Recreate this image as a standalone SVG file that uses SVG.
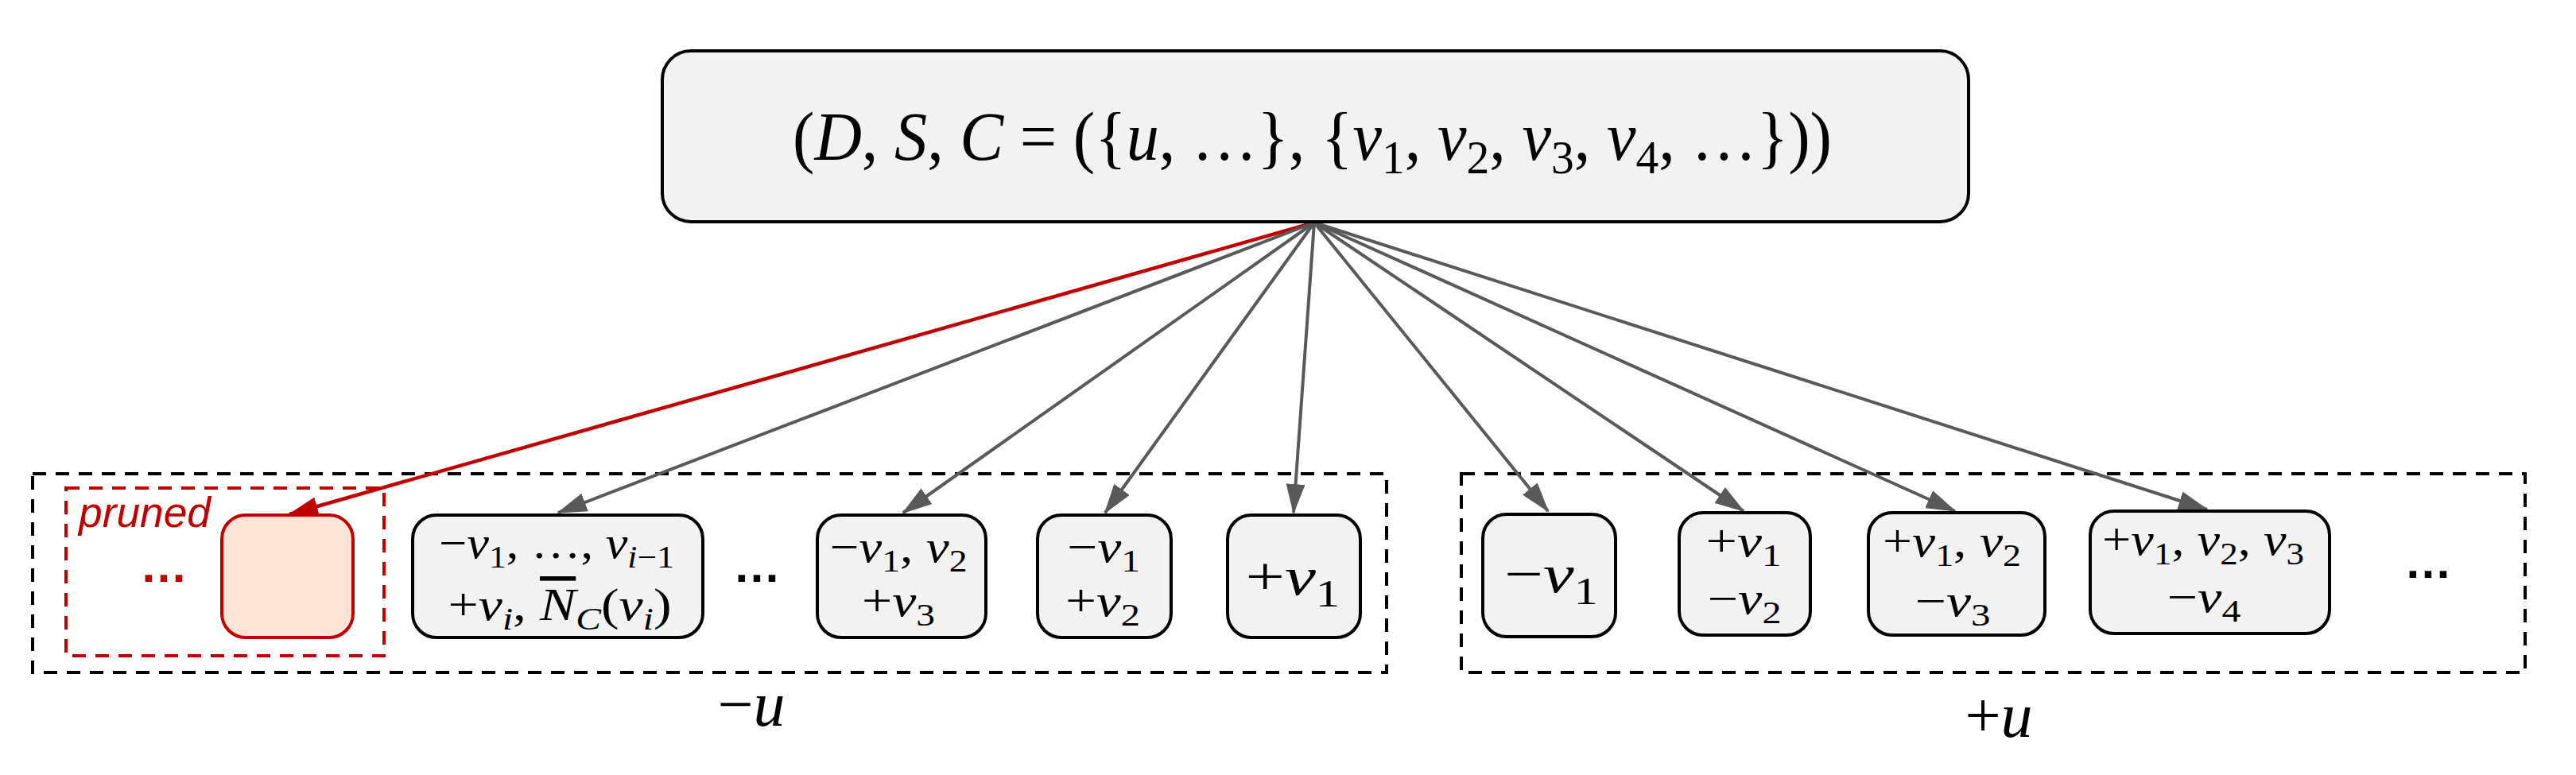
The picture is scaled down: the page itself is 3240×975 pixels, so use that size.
<svg xmlns="http://www.w3.org/2000/svg" width="3240" height="975" viewBox="0 0 3240 975">
<style>
.m{font-family:"Liberation Serif","Times New Roman",serif;fill:#000}
.i{font-style:italic}
.s{font-size:0.7em}
.node{fill:#F2F2F2;stroke:#000;stroke-width:4}
.grp{fill:none;stroke:#000;stroke-width:4;stroke-dasharray:17 12}
.edge{fill:none;stroke:#595959;stroke-width:4}
.redge{fill:none;stroke:#C00000;stroke-width:4.5}
.dots{font-family:"Liberation Sans",Arial,sans-serif;font-weight:bold;font-size:60px;text-anchor:middle}
.nt{font-size:56px;text-anchor:middle}
.bt{font-size:68px;text-anchor:middle}
</style>
<defs>
<marker id="ag" viewBox="0 0 38 24" refX="36" refY="12" markerWidth="38" markerHeight="24" markerUnits="userSpaceOnUse" orient="auto"><path d="M0,0 L38,12 L0,24 z" fill="#595959"/></marker>
<marker id="ar" viewBox="0 0 38 24" refX="36" refY="12" markerWidth="38" markerHeight="24" markerUnits="userSpaceOnUse" orient="auto"><path d="M0,0 L38,12 L0,24 z" fill="#C00000"/></marker>
</defs>
<rect width="3240" height="975" fill="#fff"/>

<g id="group-minus-u">
<rect class="grp" x="41" y="596" width="1703" height="250"/>
<text class="m" x="945" y="913" font-size="80" text-anchor="middle">−<tspan class="i">u</tspan></text>
</g>
<g id="group-plus-u">
<rect class="grp" x="1838" y="596" width="1338" height="250"/>
<text class="m" x="2514" y="927" font-size="80" text-anchor="middle">+<tspan class="i">u</tspan></text>
</g>

<g id="connectors">
<line class="redge" x1="1653" y1="280" x2="364" y2="647" marker-end="url(#ar)"/>
<line class="edge" x1="1653" y1="280" x2="702" y2="645" marker-end="url(#ag)"/>
<line class="edge" x1="1653" y1="280" x2="1136" y2="645" marker-end="url(#ag)"/>
<line class="edge" x1="1653" y1="280" x2="1390" y2="645" marker-end="url(#ag)"/>
<line class="edge" x1="1653" y1="280" x2="1627" y2="645" marker-end="url(#ag)"/>
<line class="edge" x1="1653" y1="280" x2="1947" y2="643" marker-end="url(#ag)"/>
<line class="edge" x1="1653" y1="280" x2="2193" y2="643" marker-end="url(#ag)"/>
<line class="edge" x1="1653" y1="280" x2="2459" y2="643" marker-end="url(#ag)"/>
<line class="edge" x1="1653" y1="280" x2="2776" y2="641" marker-end="url(#ag)"/>
</g>

<g id="root">
<rect class="node" x="833" y="64" width="1643" height="215" rx="36"/>
<text class="m" x="997" y="201" font-size="86" textLength="1307" lengthAdjust="spacingAndGlyphs">(<tspan class="i">D</tspan>, <tspan class="i">S</tspan>, <tspan class="i">C</tspan> = ({<tspan class="i">u</tspan>, …}, {<tspan class="i">v</tspan><tspan class="s" dy="17">1</tspan><tspan dy="-17">, </tspan><tspan class="i">v</tspan><tspan class="s" dy="17">2</tspan><tspan dy="-17">, </tspan><tspan class="i">v</tspan><tspan class="s" dy="17">3</tspan><tspan dy="-17">, </tspan><tspan class="i">v</tspan><tspan class="s" dy="17">4</tspan><tspan dy="-17">, …}))</tspan></text>
</g>

<g id="pruned">
<rect x="83" y="614" width="400" height="211" fill="none" stroke="#C00000" stroke-width="4" stroke-dasharray="17 12"/>
<text x="99" y="663" font-family="'Liberation Sans',Arial,sans-serif" font-style="italic" font-size="53" fill="#C00000" textLength="166" lengthAdjust="spacingAndGlyphs">pruned</text>
<text class="dots" x="206" y="732" fill="#C00000">…</text>
<rect x="279" y="648" width="165" height="154" rx="30" fill="#FBE5D6" stroke="#C00000" stroke-width="4"/>
</g>

<g id="node-neg-v1-vi">
<rect class="node" x="519" y="648" width="365" height="154" rx="30"/>
<text class="m nt" x="700" y="702" textLength="296" lengthAdjust="spacingAndGlyphs">−<tspan class="i">v</tspan><tspan class="s" dy="12">1</tspan><tspan dy="-12">, …, </tspan><tspan class="i">v</tspan><tspan class="s" dy="12"><tspan class="i">i</tspan>−1</tspan></text>
<text class="m nt" x="704" y="780" textLength="281" lengthAdjust="spacingAndGlyphs">+<tspan class="i">v</tspan><tspan class="s i" dy="12">i</tspan><tspan dy="-12">, </tspan><tspan class="i" style="text-decoration:overline">N</tspan><tspan class="s i" dy="12">C</tspan><tspan dy="-12">(</tspan><tspan class="i">v</tspan><tspan class="s i" dy="12">i</tspan><tspan dy="-12">)</tspan></text>
</g>

<text class="dots" x="952" y="732">…</text>

<g id="node-neg-v1v2-pos-v3">
<rect class="node" x="1028" y="648" width="212" height="154" rx="30"/>
<text class="m nt" x="1130" y="707" textLength="173" lengthAdjust="spacingAndGlyphs">−<tspan class="i">v</tspan><tspan class="s" dy="12">1</tspan><tspan dy="-12">, </tspan><tspan class="i">v</tspan><tspan class="s" dy="12">2</tspan></text>
<text class="m nt" x="1130" y="775" textLength="92" lengthAdjust="spacingAndGlyphs">+<tspan class="i">v</tspan><tspan class="s" dy="12">3</tspan></text>
</g>

<g id="node-neg-v1-pos-v2">
<rect class="node" x="1305" y="648" width="168" height="154" rx="30"/>
<text class="m nt" x="1388" y="707" textLength="92" lengthAdjust="spacingAndGlyphs">−<tspan class="i">v</tspan><tspan class="s" dy="12">1</tspan></text>
<text class="m nt" x="1387" y="775" textLength="94" lengthAdjust="spacingAndGlyphs">+<tspan class="i">v</tspan><tspan class="s" dy="12">2</tspan></text>
</g>

<g id="node-pos-v1">
<rect class="node" x="1544" y="648" width="167" height="154" rx="30"/>
<text class="m bt" x="1626" y="748" textLength="119" lengthAdjust="spacingAndGlyphs">+<tspan class="i">v</tspan><tspan class="s" dy="15">1</tspan></text>
</g>

<g id="node-neg-v1">
<rect class="node" x="1865" y="647" width="167" height="154" rx="30"/>
<text class="m bt" x="1951" y="745" textLength="118" lengthAdjust="spacingAndGlyphs">−<tspan class="i">v</tspan><tspan class="s" dy="15">1</tspan></text>
</g>

<g id="node-pos-v1-neg-v2">
<rect class="node" x="2112" y="645" width="165" height="154" rx="30"/>
<text class="m nt" x="2193" y="700" textLength="95" lengthAdjust="spacingAndGlyphs">+<tspan class="i">v</tspan><tspan class="s" dy="12">1</tspan></text>
<text class="m nt" x="2194" y="772" textLength="93" lengthAdjust="spacingAndGlyphs">−<tspan class="i">v</tspan><tspan class="s" dy="12">2</tspan></text>
</g>

<g id="node-pos-v1v2-neg-v3">
<rect class="node" x="2350" y="645" width="222" height="154" rx="30"/>
<text class="m nt" x="2455" y="700" textLength="174" lengthAdjust="spacingAndGlyphs">+<tspan class="i">v</tspan><tspan class="s" dy="12">1</tspan><tspan dy="-12">, </tspan><tspan class="i">v</tspan><tspan class="s" dy="12">2</tspan></text>
<text class="m nt" x="2456" y="775" textLength="95" lengthAdjust="spacingAndGlyphs">−<tspan class="i">v</tspan><tspan class="s" dy="12">3</tspan></text>
</g>

<g id="node-pos-v1v2v3-neg-v4">
<rect class="node" x="2629" y="643" width="301" height="154" rx="30"/>
<text class="m nt" x="2771" y="698" textLength="254" lengthAdjust="spacingAndGlyphs">+<tspan class="i">v</tspan><tspan class="s" dy="12">1</tspan><tspan dy="-12">, </tspan><tspan class="i">v</tspan><tspan class="s" dy="12">2</tspan><tspan dy="-12">, </tspan><tspan class="i">v</tspan><tspan class="s" dy="12">3</tspan></text>
<text class="m nt" x="2772" y="770" textLength="93" lengthAdjust="spacingAndGlyphs">−<tspan class="i">v</tspan><tspan class="s" dy="12">4</tspan></text>
</g>

<text class="dots" x="3054" y="727">…</text>
</svg>
